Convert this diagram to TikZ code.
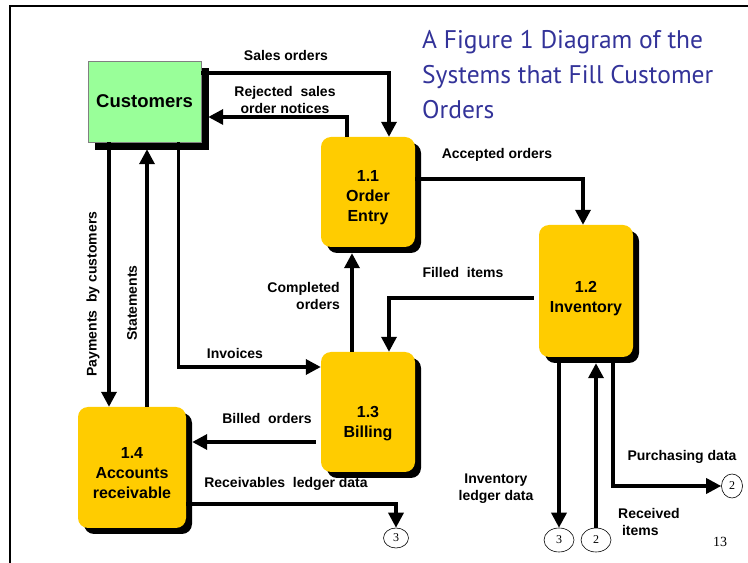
\documentclass[tikz,border=0pt]{standalone}
\usepackage{fontspec}
\setmainfont{Liberation Sans}
\newfontfamily\tnr{Liberation Serif}
\newfontfamily\ttlfont{PT Sans}
\usetikzlibrary{arrows.meta,shadows,shapes.geometric}
\definecolor{dy}{RGB}{255,204,0}
\definecolor{lg}{RGB}{153,255,153}
\definecolor{tb}{RGB}{51,51,153}
\tikzset{
  box/.style={fill=dy, rounded corners=10pt, inner sep=0pt,
    drop shadow={shadow xshift=6pt, shadow yshift=-6pt, fill=black, opacity=1}},
  btxt/.style={align=center, inner sep=0pt, font=\fontsize{16}{20}\selectfont\bfseries},
  ext/.style={fill=lg, draw=gray, inner sep=0pt,
    font=\fontsize{18.5}{22}\selectfont\bfseries,
    preaction={fill=black, draw=black, transform canvas={shift={(7pt,-7pt)}}}},
  flow/.style={line width=3.4pt, -{Triangle[length=15pt,width=15pt]}},
  lbl/.style={font=\fontsize{14}{17}\selectfont\bfseries, align=center, inner sep=0pt},
  conn/.style={ellipse, draw, line width=0.6pt, inner sep=0pt,
    font=\tnr\fontsize{12}{12}\selectfont}
}
\begin{document}
\begin{tikzpicture}[x=1pt,y=1pt]
  \useasboundingbox (0,0) rectangle (748,563);
  \draw [line width=2pt] (10,0) -- (10,557) -- (748,557);

  % title
  \node [anchor=north west, inner sep=0pt, align=left, text=tb,
    font=\ttlfont\fontsize{25.5}{35}\selectfont] (ttl) at (422,533)
    {A Figure 1 Diagram of the\\Systems that Fill Customer\\Orders};

  % entity and processes
  \node [ext, minimum width=113pt, minimum height=81pt] (cust) at (144.5,461.5) {Customers};
  \node [box, minimum width=94pt, minimum height=110pt,
    label={[btxt, yshift=-6pt]center:{1.1\\Order\\Entry}}] (oe) at (368,371) {};
  \node [box, minimum width=94pt, minimum height=132pt,
    label={[btxt, yshift=-8pt]center:{1.2\\Inventory}}] (inv) at (586,272) {};
  \node [box, minimum width=94pt, minimum height=120pt,
    label={[btxt, yshift=-12pt]center:{1.3\\Billing}}] (bill) at (368,151) {};
  \node [box, minimum width=108pt, minimum height=121pt,
    label={[btxt, yshift=-6pt]center:{1.4\\Accounts\\receivable}}] (ar) at (132,95.5) {};

  % off-page connectors
  \node [conn, minimum width=25pt, minimum height=20pt] (ca) at (396,25) {3};
  \node [conn, minimum width=30pt, minimum height=24pt] (cb) at (559,23) {3};
  \node [conn, minimum width=30pt, minimum height=24pt] (cc) at (596,23) {2};
  \node [conn, minimum width=21pt, minimum height=24pt] (cd) at (732,77) {2};

  % data flows
  \draw [flow] ([yshift=28.5pt]cust.east) -| ([xshift=21pt]oe.north);
  \draw [flow] ([xshift=-21pt]oe.north) |- ([xshift=7pt,yshift=-15.5pt]cust.east);
  \draw [flow] ([yshift=13pt]oe.east) -| ([xshift=-3pt]inv.north);
  \draw [flow] ([xshift=-5pt,yshift=-7pt]inv.west) -| ([xshift=21pt]bill.north);
  \draw [flow] ([xshift=-16pt]bill.north) -- ([xshift=-16pt,yshift=-6pt]oe.south);
  \draw [flow] ([xshift=34pt]cust.south) |- ([yshift=45pt]bill.west);
  \draw [flow] ([xshift=-35.5pt]cust.south) -- ([xshift=-35.5pt]cust.south |- ar.north);
  \draw [flow] ([xshift=15pt]ar.north) -- ([xshift=2.5pt,yshift=-7pt]cust.south);
  \draw [flow] ([xshift=-5pt,yshift=-30pt]bill.west) -- ([xshift=6pt,yshift=25.5pt]ar.east);
  \draw [flow] ([yshift=-36.5pt]ar.east) -| (ca.north);
  \draw [flow] ([xshift=-27pt]inv.south) -- (cb.north);
  \draw [flow] (cc.north) -- ([yshift=-6pt]cc.north |- inv.south);
  \draw [flow] ([xshift=27pt]inv.south) |- (cd.west);

  % flow labels
  \node [lbl] (l1) at (286,508) {Sales orders};
  \node [lbl] (l2) at (285,463.5) {Rejected\ \ sales\\order notices};
  \node [lbl] (l3) at (497,408) {Accepted orders};
  \node [lbl] (l4) at (463,291) {Filled\ \ items};
  \node [lbl, anchor=east, align=right] (l5) at (340,267) {Completed\\orders};
  \node [lbl] (l6) at (235,210) {Invoices};
  \node [lbl, rotate=90] (l7) at (93,269) {Payments\ \ by customers};
  \node [lbl, rotate=90] (l8) at (132,260) {Statements};
  \node [lbl] (l9) at (267,145) {Billed\ \ orders};
  \node [lbl] (l10) at (286,79) {Receivables\ \ ledger data};
  \node [lbl] (l11) at (496,74) {Inventory\\ledger data};
  \node [lbl, anchor=west, align=left] (l12) at (618,41) {Received\\\ items};
  \node [lbl] (l13) at (682,106) {Purchasing data};

  \node [font=\tnr\fontsize{14}{14}\selectfont] (pg) at (720,21) {13};
\end{tikzpicture}
\end{document}
